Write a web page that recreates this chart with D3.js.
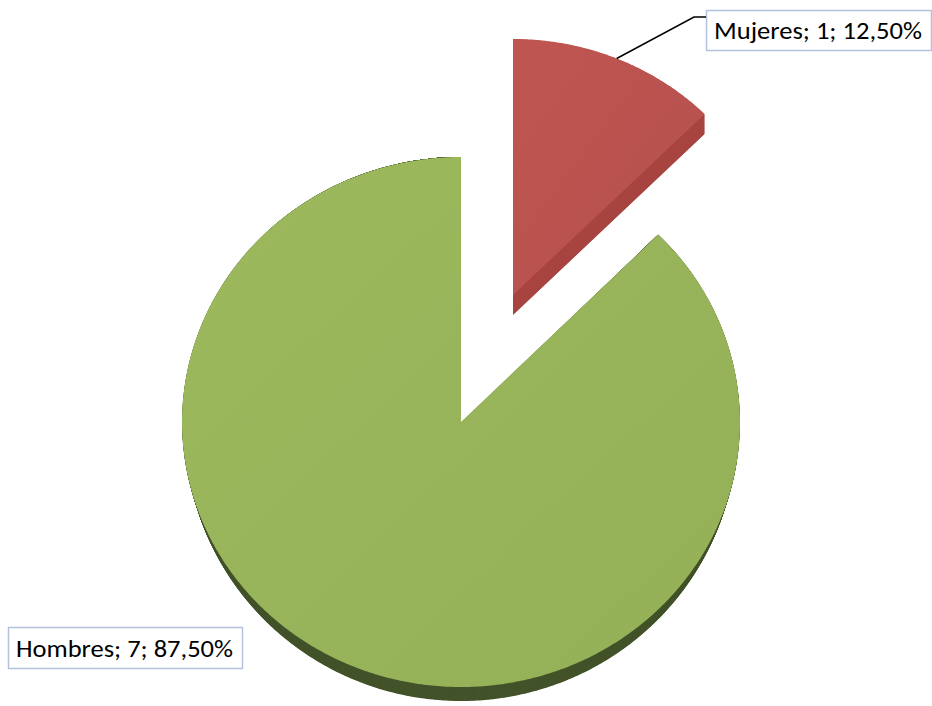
<!DOCTYPE html>
<html><head><meta charset="utf-8">
<script src="https://cdn.jsdelivr.net/npm/d3@7"></script>
<style>html,body{margin:0;padding:0;background:#fff;}svg{display:block;}</style>
</head><body>
<svg id="chart" width="932" height="706"></svg>
<script>
const categories = ["Mujeres", "Hombres"];
const values = [1, 7];
const percentLabels = ["12,50%", "87,50%"];

const topColors = ["#b8524e", "#97b35a"];
const sideColors = ["#a7443f", "#43532a"];

const svg = d3.select("#chart");
const pie = d3.pie().sort(null).value(d => d.value);
const arcs = pie(categories.map((c, i) => ({name: c, value: values[i], i})));

// per-slice geometry (ellipse projection of the tilted pie)
const geom = [
  {cx: 513, cy: 295, rx: 271, ry: 256, depth: 20, cyShift: 1.0, ryGrow: 0.0, rxShrink: 0},   // exploded slice
  {cx: 461, cy: 422, rx: 279, ry: 265, depth: 14, cyShift: 0.5, ryGrow: 0.5, rxShrink: 3}
];

// k in [0,1]: 0 = top face, 1 = bottom face of the extruded slice
function slicePath(a, g, k) {
  const cx = g.cx, apexY = g.cy + k * g.depth;
  const ecy = g.cy + k * g.depth * g.cyShift;
  const rx = g.rx - k * g.rxShrink, ry = g.ry + k * g.depth * g.ryGrow;
  const p = d3.path();
  p.moveTo(cx, apexY);
  const n = Math.max(8, Math.ceil((a.endAngle - a.startAngle) / 0.01));
  d3.range(n + 1).forEach(j => {
    const t = a.startAngle + (a.endAngle - a.startAngle) * j / n;
    p.lineTo(cx + rx * Math.sin(t), ecy - ry * Math.cos(t));
  });
  p.closePath();
  return p.toString();
}

const defs = svg.append("defs");
arcs.forEach((a, i) => {
  const gr = defs.append("linearGradient").attr("id", "g" + i)
    .attr("x1", "0%").attr("y1", "0%").attr("x2", "100%").attr("y2", "100%");
  const c = d3.color(topColors[i]);
  gr.append("stop").attr("offset", "0%").attr("stop-color", c.brighter(0.1));
  gr.append("stop").attr("offset", "100%").attr("stop-color", c.darker(0.05));
});

[0, 1].forEach(i => {
  const a = arcs[i], g = geom[i];
  const steps = g.depth * 2;
  for (let s = steps; s > 0; s -= 1) {
    svg.append("path").attr("d", slicePath(a, g, s / steps))
      .attr("fill", sideColors[i]);
  }
  svg.append("path").attr("d", slicePath(a, g, 0))
    .attr("fill", `url(#g${i})`);
});

// labels
const fontFam = "Carlito, Calibri, Lato, 'Open Sans', sans-serif";
function labelText(i) {
  return `${categories[i]}; ${values[i]}; ${percentLabels[i]}`;
}
const labels = [
  {i: 0, box: [706, 10, 225, 40], tx: 714, ty: 39, tw: 208},
  {i: 1, box: [8, 627, 234, 41], tx: 16, ty: 657, tw: 217}
];
labels.forEach(L => {
  svg.append("rect").attr("x", L.box[0] + 0.5).attr("y", L.box[1] + 0.5)
    .attr("width", L.box[2]).attr("height", L.box[3])
    .attr("fill", "#fff").attr("stroke", "#b3c3dc").attr("stroke-width", 1.5);
  svg.append("text").attr("x", L.tx).attr("y", L.ty)
    .attr("font-family", fontFam).attr("font-size", 25)
    .attr("fill", "#000")
    .attr("textLength", L.tw).attr("lengthAdjust", "spacingAndGlyphs")
    .text(labelText(L.i));
});

// leader line for Mujeres from outer arc bisector
const a0 = arcs[0], g0 = geom[0];
const mid = (a0.startAngle + a0.endAngle) / 2;
const sx = g0.cx + g0.rx * Math.sin(mid), sy = g0.cy - g0.ry * Math.cos(mid);
svg.append("polyline")
  .attr("points", `${sx},${sy} 694,17 706,17`)
  .attr("fill", "none").attr("stroke", "#000").attr("stroke-width", 1.5);
</script>
</body></html>
